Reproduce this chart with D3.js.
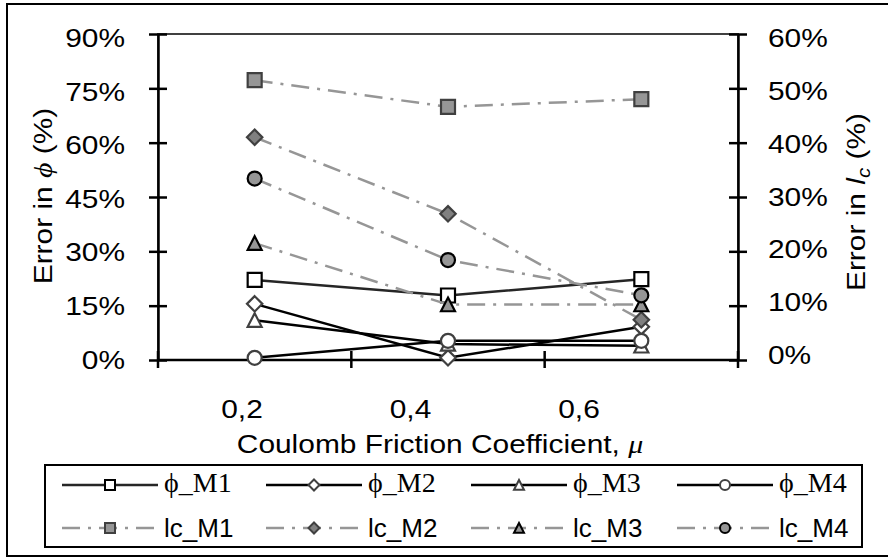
<!DOCTYPE html>
<html>
<head>
<meta charset="utf-8">
<script src="https://cdn.jsdelivr.net/npm/d3@7"></script>
<style>
  body { margin: 0; background: #fff; }
  svg { display: block; }
</style>
</head>
<body>
<svg id="chart" width="888" height="558" font-family="Liberation Sans, Arial, sans-serif"></svg>
<script>
// Friction coefficient categories
const categories = ["0,2", "0,4", "0,6"];

// Error in phi (%) — left axis
const phiM1 = [22.1, 17.8, 22.3];
const phiM2 = [15.5, 0.6, 9.2];
const phiM3 = [11.0, 4.4, 3.9];
const phiM4 = [0.6, 5.3, 5.3];

// Error in lc (%) — right axis
const lcM1 = [51.5, 46.6, 48.0];
const lcM2 = [41.0, 26.9, 7.4];
const lcM3 = [21.5, 10.2, 10.2];
const lcM4 = [33.4, 18.4, 11.9];

// Axis ticks
const leftTicks = [0, 15, 30, 45, 60, 75, 90];
const rightTicks = [0, 10, 20, 30, 40, 50, 60];

const SANS = "Liberation Sans, Arial, sans-serif";
const SERIF = "Liberation Serif, Times New Roman, serif";
const STRETCH = 1.15;

const svg = d3.select("#chart");

const plot = { left: 158, right: 738, top: 34, bottom: 360 };

const x = d3.scaleBand().domain(categories).range([plot.left, plot.right]);
const yL = d3.scaleLinear().domain([0, 90]).range([plot.bottom, plot.top]);
const yR = d3.scaleLinear().domain([0, 60]).range([plot.bottom, plot.top]);

// label placement scales
const xLab = d3.scalePoint().domain(categories).range([242, 579]);
const yLabL = d3.scaleLinear().domain([0, 90]).range([368, 46.5]);
const yLabR = d3.scaleLinear().domain([0, 60]).range([363.5, 46.5]);

// outer chart border
svg.append("rect")
  .attr("x", 7).attr("y", 4).attr("width", 890).attr("height", 552)
  .attr("fill", "#fff").attr("stroke", "#000").attr("stroke-width", 2);

// plot area frame
svg.append("rect")
  .attr("x", plot.left).attr("y", plot.top)
  .attr("width", plot.right - plot.left).attr("height", plot.bottom - plot.top)
  .attr("fill", "none").attr("stroke", "#404040").attr("stroke-width", 2);

// left axis
const gL = svg.append("g").attr("transform", `translate(${plot.left},0)`)
  .call(d3.axisLeft(yL).tickValues(leftTicks).tickSizeOuter(0).tickSizeInner(9)
    .tickFormat(d => d + "%"));
gL.select(".domain").attr("stroke", "#000").attr("stroke-width", 2.5);
gL.selectAll(".tick line").attr("x1", -9).attr("x2", 9).attr("stroke", "#000").attr("stroke-width", 2.5);
gL.selectAll(".tick text")
  .attr("x", null).attr("dy", null)
  .attr("text-anchor", "end")
  .attr("font-size", 26)
  .attr("font-family", SANS)
  .attr("fill", "#000")
  .attr("transform", d => `translate(${125 - plot.left},${yLabL(d) - yL(d)}) scale(${STRETCH},1)`);

// right axis
const gR = svg.append("g").attr("transform", `translate(${plot.right},0)`)
  .call(d3.axisRight(yR).tickValues(rightTicks).tickSizeOuter(0).tickSizeInner(9)
    .tickFormat(d => d + "%"));
gR.select(".domain").attr("stroke", "#000").attr("stroke-width", 2.5);
gR.selectAll(".tick line").attr("x1", -9).attr("x2", 9).attr("stroke", "#000").attr("stroke-width", 2.5);
gR.selectAll(".tick text")
  .attr("x", null).attr("dy", null)
  .attr("text-anchor", "start")
  .attr("font-size", 26)
  .attr("font-family", SANS)
  .attr("fill", "#000")
  .attr("transform", d => `translate(${768 - plot.right},${yLabR(d) - yR(d)}) scale(${STRETCH},1)`);

// bottom axis: line plus ticks at band edges
const edges = [x.range()[0]].concat(categories.map(c => x(c) + x.bandwidth()));
const gX = svg.append("g");
gX.append("line")
  .attr("x1", plot.left).attr("x2", plot.right)
  .attr("y1", plot.bottom).attr("y2", plot.bottom)
  .attr("stroke", "#000").attr("stroke-width", 2.5);
gX.selectAll("line.tick").data(edges).join("line").attr("class", "tick")
  .attr("x1", d => d).attr("x2", d => d)
  .attr("y1", plot.bottom - 9).attr("y2", plot.bottom + 8)
  .attr("stroke", "#000").attr("stroke-width", 2.5);
gX.selectAll("text").data(categories).join("text")
  .attr("text-anchor", "middle").attr("font-size", 26)
  .attr("transform", d => `translate(${xLab(d)},418) scale(${STRETCH},1)`)
  .text(d => d);

// axis titles
const tL = svg.append("text").attr("text-anchor", "middle").attr("font-size", 26)
  .attr("transform", `translate(52,196) rotate(-90) scale(${STRETCH},1)`);
tL.append("tspan").text("Error in ");
tL.append("tspan").attr("font-family", SERIF).attr("font-style", "italic").text("ϕ");
tL.append("tspan").text(" (%)");

const tR = svg.append("text").attr("text-anchor", "middle").attr("font-size", 26)
  .attr("transform", `translate(865,202) rotate(-90) scale(${STRETCH},1)`);
tR.append("tspan").text("Error in ");
tR.append("tspan").attr("font-style", "italic").text("l");
tR.append("tspan").attr("font-style", "italic").attr("font-size", 18).attr("dy", 5).text("c");
tR.append("tspan").attr("dy", -5).text(" (%)");

const tX = svg.append("text").attr("text-anchor", "middle").attr("font-size", 26)
  .attr("transform", `translate(440,453) scale(${STRETCH},1)`);
tX.append("tspan").text("Coulomb Friction Coefficient, ");
tX.append("tspan").attr("font-family", SERIF).attr("font-style", "italic").text("μ");

// marker shapes centred on the origin
function shapePath(shape, s) {
  switch (shape) {
    case "square": return `M${-s},${-s}H${s}V${s}H${-s}Z`;
    case "diamond": return `M0,${-s * 1.1}L${s * 1.1},0L0,${s * 1.1}L${-s * 1.1},0Z`;
    case "triangle": return `M0,${-s}L${s},${s * 0.95}L${-s},${s * 0.95}Z`;
    case "circle": return `M${s},0A${s},${s} 0 1,1 ${-s},0A${s},${s} 0 1,1 ${s},0Z`;
  }
}

const DASH = "18,8,3,8";
const series = [
  { name: "ϕ_M1", values: phiM1, axis: yL, shape: "square",   line: "#262626", dash: null, fill: "#fff",    mstroke: "#000" },
  { name: "ϕ_M2", values: phiM2, axis: yL, shape: "diamond",  line: "#000",    dash: null, fill: "#fff",    mstroke: "#404040" },
  { name: "ϕ_M3", values: phiM3, axis: yL, shape: "triangle", line: "#000",    dash: null, fill: "#fff",    mstroke: "#404040" },
  { name: "ϕ_M4", values: phiM4, axis: yL, shape: "circle",   line: "#000",    dash: null, fill: "#fff",    mstroke: "#404040" },
  { name: "lc_M1", values: lcM1, axis: yR, shape: "square",   line: "#969696", dash: DASH, fill: "#969696", mstroke: "#404040" },
  { name: "lc_M2", values: lcM2, axis: yR, shape: "diamond",  line: "#969696", dash: DASH, fill: "#808080", mstroke: "#404040" },
  { name: "lc_M3", values: lcM3, axis: yR, shape: "triangle", line: "#969696", dash: DASH, fill: "#969696", mstroke: "#000" },
  { name: "lc_M4", values: lcM4, axis: yR, shape: "circle",   line: "#969696", dash: DASH, fill: "#969696", mstroke: "#000" }
];

const cx = c => x(c) + x.bandwidth() / 2;

series.forEach(s => {
  const pts = categories.map((c, i) => [cx(c), s.axis(s.values[i])]);
  const g = svg.append("g");
  g.append("path")
    .attr("d", d3.line()(pts))
    .attr("fill", "none")
    .attr("stroke", s.line)
    .attr("stroke-width", 2.5)
    .attr("stroke-dasharray", s.dash);
  g.selectAll("path.m").data(pts).join("path").attr("class", "m")
    .attr("transform", p => `translate(${p[0]},${p[1]})`)
    .attr("d", shapePath(s.shape, 7))
    .attr("fill", s.fill)
    .attr("stroke", s.mstroke)
    .attr("stroke-width", 2.2);
});

// legend
const legend = svg.append("g");
legend.append("rect")
  .attr("x", 45).attr("y", 465).attr("width", 817).attr("height", 82)
  .attr("fill", "#fff").attr("stroke", "#000").attr("stroke-width", 2);

const colX = [62, 266, 471, 677];
const rowY = [485, 528];
series.forEach((s, i) => {
  const col = i % 4, row = Math.floor(i / 4);
  const x0 = colX[col], y0 = rowY[row];
  const g = legend.append("g");
  g.append("line")
    .attr("x1", x0).attr("x2", x0 + 96).attr("y1", y0).attr("y2", y0)
    .attr("stroke", s.line).attr("stroke-width", 2.5)
    .attr("stroke-dasharray", s.dash);
  g.append("path")
    .attr("transform", `translate(${x0 + 48},${y0})`)
    .attr("d", shapePath(s.shape, 5))
    .attr("fill", s.fill).attr("stroke", s.mstroke).attr("stroke-width", 2);
  const t = g.append("text").attr("x", x0 + 102).attr("y", y0 + (row === 0 ? 7 : 9)).attr("fill", "#000");
  if (row === 0) {
    t.attr("font-family", SERIF).attr("font-size", 28).text(s.name);
  } else {
    t.attr("font-family", SANS).attr("font-size", 26).text(s.name);
  }
});
</script>
</body>
</html>
